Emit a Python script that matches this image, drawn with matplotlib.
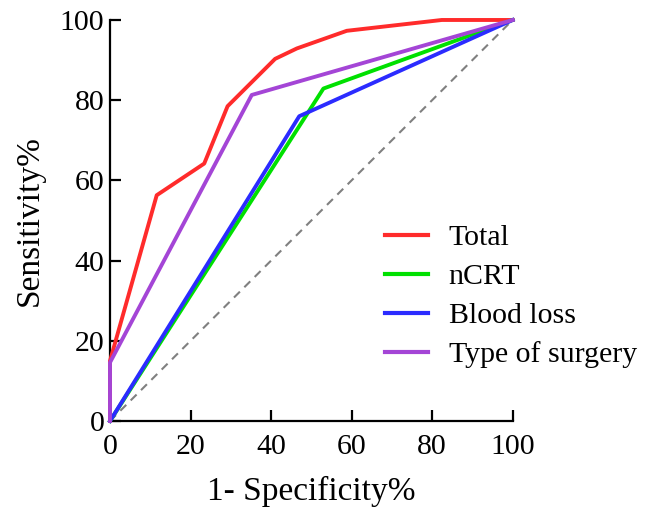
import matplotlib
matplotlib.use("Agg")
import matplotlib.pyplot as plt

# ROC curves (1-specificity %, sensitivity %)
total_x = [0, 0, 11.6, 23.4, 29.2, 41.0, 46.4, 58.8, 82.4, 100]
total_y = [0, 15.0, 56.3, 64.2, 78.5, 90.3, 92.9, 97.3, 100, 100]

ncrt_x = [0, 53.0, 100]
ncrt_y = [0, 82.9, 100]

blood_x = [0, 47.0, 100]
blood_y = [0, 76.0, 100]

surgery_x = [0, 0, 35.2, 100]
surgery_y = [0, 14.6, 81.3, 100]

names = ["Total", "nCRT", "Blood loss", "Type of surgery"]
colors = ["#ff2b2b", "#00e000", "#2b2bff", "#a445d6"]

plt.rcParams['font.family'] = ['Liberation Serif', 'DejaVu Serif']

fig = plt.figure(figsize=(6.54, 5.07), dpi=100)
ax = fig.add_axes([0.1682, 0.1696, 0.6157, 0.791])

ax.plot([0, 100], [0, 100], color="#808080", lw=1.5, ls=(0, (4, 3)), zorder=1)

curves = [(total_x, total_y), (ncrt_x, ncrt_y), (blood_x, blood_y), (surgery_x, surgery_y)]
for (xs, ys), name, c in zip(curves, names, colors):
    ax.plot(xs, ys, color=c, lw=2.8, label=name, clip_on=False, zorder=3)

ax.set_xlim(0, 100)
ax.set_ylim(0, 100)
ax.set_xticks([0, 20, 40, 60, 80, 100])
ax.set_yticks([0, 20, 40, 60, 80, 100])
ax.tick_params(direction='in', length=8, width=1.6, labelsize=21.5)
ax.tick_params(axis='x', pad=9)
ax.tick_params(axis='y', pad=4)
for s in ['top', 'right']:
    ax.spines[s].set_visible(False)
for s in ['left', 'bottom']:
    ax.spines[s].set_linewidth(1.6)

ax.set_xlabel("1- Specificity%", fontsize=24, labelpad=12)
ax.set_ylabel("Sensitivity%", fontsize=24, labelpad=11)

leg = ax.legend(loc='upper left', bbox_to_anchor=(0.683, 0.49), frameon=False,
                fontsize=21.5, handlelength=1.44, handletextpad=0.69,
                labelspacing=0.40, borderpad=0, borderaxespad=0)
for line in leg.get_lines():
    line.set_linewidth(3)

fig.savefig("out.png", dpi=100)
